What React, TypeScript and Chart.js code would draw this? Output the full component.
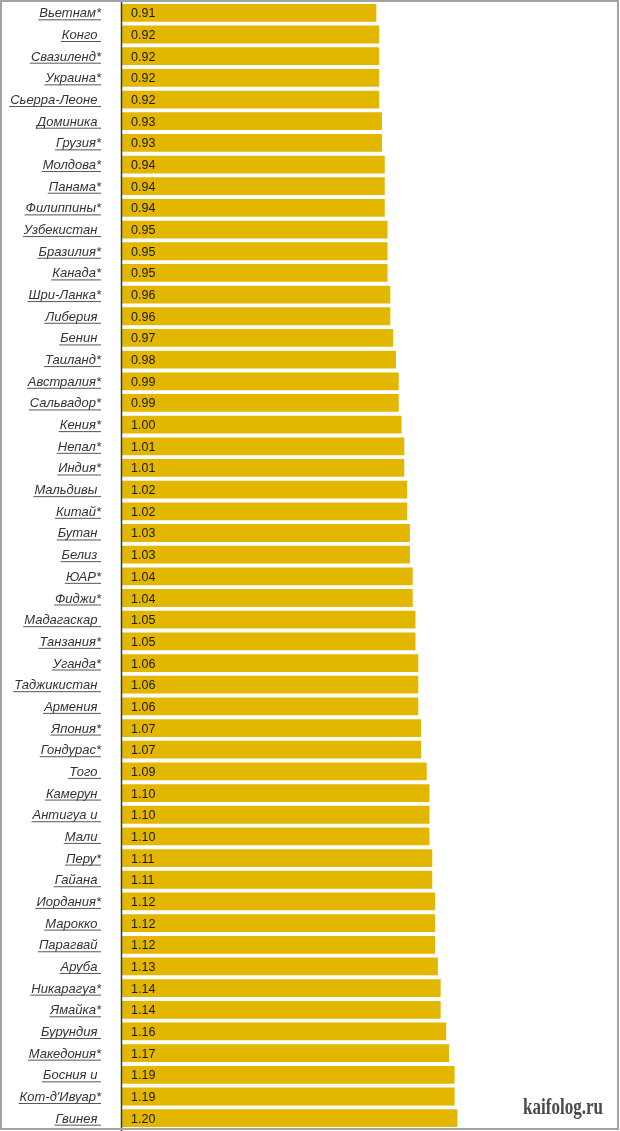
import React, { useEffect, useRef } from "react";
import { Chart, registerables } from "chart.js";

Chart.register(...registerables);

const countries: string[] = [
  "Вьетнам*", "Конго ", "Свазиленд*", "Украина*", "Сьерра-Леоне ",
  "Доминика ", "Грузия*", "Молдова*", "Панама*", "Филиппины*",
  "Узбекистан ", "Бразилия*", "Канада*", "Шри-Ланка*", "Либерия ",
  "Бенин ", "Таиланд*", "Австралия*", "Сальвадор*", "Кения*",
  "Непал*", "Индия*", "Мальдивы ", "Китай*", "Бутан ",
  "Белиз ", "ЮАР*", "Фиджи*", "Мадагаскар ", "Танзания*",
  "Уганда*", "Таджикистан ", "Армения ", "Япония*", "Гондурас*",
  "Того ", "Камерун ", "Антигуа и ", "Мали ", "Перу*",
  "Гайана ", "Иордания*", "Марокко ", "Парагвай ", "Аруба ",
  "Никарагуа*", "Ямайка*", "Бурундия ", "Македония*", "Босния и ",
  "Кот-д'Ивуар*", "Гвинея ",
];

const values: number[] = [
  0.91, 0.92, 0.92, 0.92, 0.92,
  0.93, 0.93, 0.94, 0.94, 0.94,
  0.95, 0.95, 0.95, 0.96, 0.96,
  0.97, 0.98, 0.99, 0.99, 1.0,
  1.01, 1.01, 1.02, 1.02, 1.03,
  1.03, 1.04, 1.04, 1.05, 1.05,
  1.06, 1.06, 1.06, 1.07, 1.07,
  1.09, 1.1, 1.1, 1.1, 1.11,
  1.11, 1.12, 1.12, 1.12, 1.13,
  1.14, 1.14, 1.16, 1.17, 1.19,
  1.19, 1.2,
];

const watermark = "kaifolog.ru";

const labelsPlugin = {
  id: "customLabels",
  afterDatasetsDraw(chart: any) {
    const ctx = chart.ctx;
    const area = chart.chartArea;
    const y = chart.scales.y;
    ctx.save();
    // axis line
    ctx.strokeStyle = "#3a3a3a";
    ctx.lineWidth = 1.5;
    ctx.beginPath();
    ctx.moveTo(area.left - 0.5, 0);
    ctx.lineTo(area.left - 0.5, chart.height);
    ctx.stroke();

    countries.forEach((name, i) => {
      const py = y.getPixelForValue(i);
      // category label
      ctx.font = "italic 13px 'Liberation Sans', Arial, sans-serif";
      ctx.fillStyle = "#333333";
      ctx.textAlign = "left";
      ctx.textBaseline = "alphabetic";
      const w = ctx.measureText(name).width;
      const right = 101;
      const x0 = right - w;
      const base = py + 4.5;
      ctx.fillText(name, x0, base);
      ctx.strokeStyle = "#555";
      ctx.lineWidth = 1;
      ctx.beginPath();
      ctx.moveTo(x0 - 1, base + 2.5);
      ctx.lineTo(right, base + 2.5);
      ctx.stroke();
      // value label
      ctx.font = "12.5px 'Liberation Sans', Arial, sans-serif";
      ctx.fillStyle = "#1a1a1a";
      ctx.fillText(values[i].toFixed(2), area.left + 9, base);
    });

    // watermark
    ctx.font = "bold 24px 'Liberation Serif', serif";
    ctx.fillStyle = "#4a4a4a";
    const ww = ctx.measureText(watermark).width;
    const target = 80;
    ctx.translate(523, 1114);
    ctx.scale(target / ww, 1);
    ctx.fillText(watermark, 0, 0);
    ctx.restore();

    // border
    ctx.save();
    ctx.strokeStyle = "#a3a3a3";
    ctx.lineWidth = 2;
    ctx.strokeRect(1, 1, 617, 1128);
    ctx.restore();
  },
};

export default function App() {
  const ref = useRef<HTMLCanvasElement | null>(null);
  useEffect(() => {
    if (!ref.current) return;
    const chart = new Chart(ref.current, {
      type: "bar",
      data: {
        labels: countries,
        datasets: [
          {
            data: values,
            backgroundColor: "#E3B600",
            borderWidth: 0,
            barPercentage: 0.82,
            categoryPercentage: 1,
          },
        ],
      },
      options: {
        indexAxis: "y",
        responsive: false,
        animation: false,
        layout: { padding: { left: 122, right: 27, top: 2, bottom: 2 } },
        plugins: { legend: { display: false }, tooltip: { enabled: false } },
        scales: {
          x: { display: false, min: 0, max: 1.685 },
          y: { display: false },
        },
      },
      plugins: [labelsPlugin],
    });
    return () => chart.destroy();
  }, []);
  return (
    <div style={{ position: "absolute", left: 0, top: 0, width: 620, height: 1131, background: "#fff" }}>
      <canvas ref={ref} width={620} height={1131} style={{ display: "block" }} />
    </div>
  );
}
